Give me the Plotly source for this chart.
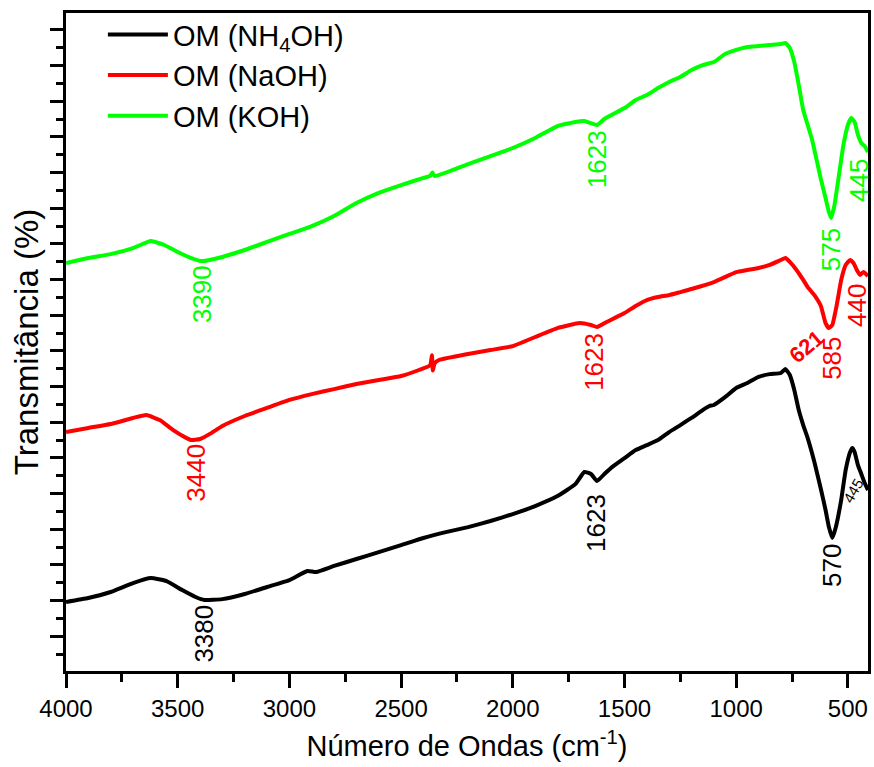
import plotly.graph_objects as go

# ---------------- data (wavenumber cm-1, transmittance in arbitrary units) ----------------
wn_nh4 = [4000, 3900, 3800, 3700, 3620, 3550, 3480, 3420, 3380, 3300, 3200, 3100, 3000, 2920, 2880,
          2800, 2700, 2600, 2500, 2400, 2300, 2200, 2100, 2000, 1900, 1800, 1720, 1680, 1650, 1623,
          1590, 1550, 1500, 1450, 1400, 1350, 1300, 1250, 1200, 1150, 1120, 1100, 1050, 1000, 950,
          900, 850, 800, 780, 760, 740, 720, 700, 680, 650, 620, 600, 585, 570, 555, 530, 510, 490,
          480, 470, 455, 440, 425, 410]
t_nh4 = [2.92, 3.14, 3.48, 3.98, 4.26, 4.09, 3.59, 3.20, 3.03, 3.08, 3.37, 3.76, 4.15, 4.66, 4.60,
         4.94, 5.33, 5.72, 6.11, 6.51, 6.84, 7.12, 7.46, 7.85, 8.30, 8.86, 9.53, 10.21, 10.10, 9.70,
         10.10, 10.54, 10.99, 11.44, 11.72, 12.00, 12.45, 12.84, 13.24, 13.68, 13.91, 13.97, 14.41,
         14.92, 15.20, 15.54, 15.70, 15.76, 15.98, 15.65, 14.81, 13.68, 12.84, 12.11, 10.77, 9.20,
         8.08, 7.12, 6.51, 7.07, 8.64, 10.32, 11.33, 11.55, 11.33, 10.60, 10.10, 9.59, 9.20]

wn_naoh = [4000, 3900, 3800, 3700, 3640, 3580, 3520, 3460, 3440, 3400, 3350, 3300, 3200, 3100, 3000,
           2900, 2800, 2700, 2600, 2500, 2420, 2370, 2362, 2358, 2350, 2330, 2200, 2100, 2000, 1900, 1800,
           1700, 1650, 1623, 1580, 1500, 1450, 1400, 1350, 1300, 1250, 1200, 1100, 1000, 950, 900,
           850, 800, 780, 760, 730, 700, 680, 650, 621, 600, 585, 570, 550, 530, 510, 490, 475, 460,
           445, 430, 410]
t_naoh = [12.45, 12.68, 12.90, 13.24, 13.40, 13.12, 12.56, 12.11, 12.00, 12.06, 12.39, 12.79, 13.35,
          13.80, 14.25, 14.58, 14.86, 15.14, 15.37, 15.59, 15.93, 16.20, 16.75, 15.90, 16.30, 16.49, 16.83,
          17.05, 17.27, 17.78, 18.28, 18.56, 18.45, 18.34, 18.62, 19.12, 19.52, 19.85, 20.02, 20.13,
          20.30, 20.47, 20.86, 21.42, 21.54, 21.65, 21.82, 22.10, 22.21, 21.99, 21.54, 20.98, 20.58,
          20.13, 19.52, 18.56, 18.28, 18.45, 19.57, 20.98, 21.82, 22.10, 21.93, 21.54, 21.26, 21.43,
          21.20]

wn_koh = [4000, 3900, 3800, 3700, 3620, 3560, 3500, 3440, 3390, 3300, 3200, 3100, 3000, 2900, 2800,
          2700, 2600, 2500, 2400, 2370, 2360, 2350, 2200, 2100, 2000, 1900, 1800, 1720, 1680, 1623,
          1590, 1500, 1450, 1400, 1350, 1300, 1250, 1200, 1150, 1100, 1050, 1000, 950, 900, 850, 800,
          780, 760, 740, 720, 700, 680, 660, 640, 620, 600, 585, 575, 560, 540, 520, 500, 485, 470,
          455, 440, 425, 410]
t_koh = [21.93, 22.21, 22.43, 22.77, 23.16, 22.94, 22.55, 22.21, 22.04, 22.27, 22.66, 23.11, 23.56,
         24.00, 24.57, 25.29, 25.86, 26.30, 26.70, 26.81, 27.00, 26.81, 27.48, 27.93, 28.38, 28.94,
         29.61, 29.84, 29.89, 29.67, 30.01, 30.62, 31.07, 31.35, 31.74, 32.08, 32.36, 32.75, 33.03,
         33.20, 33.65, 33.88, 34.04, 34.10, 34.16, 34.21, 34.27, 33.99, 33.20, 31.91, 30.51, 29.67,
         28.83, 27.71, 26.58, 25.57, 24.79, 24.45, 25.18, 26.86, 28.55, 29.67, 30.06, 29.84, 29.11,
         28.66, 28.49, 28.15]

series_names = ["OM (NH<sub>4</sub>OH)", "OM (NaOH)", "OM (KOH)"]
series_colors = ["#000000", "#ff0000", "#00ff00"]

# peak labels: text, wavenumber position, value position, series index, angle, size, bold
peak_text = ["3380", "1623", "570", "445",
             "3440", "1623", "621", "585", "440",
             "3390", "1623", "575", "445"]
peak_x = [3380, 1628, 572, 475,
          3420, 1637, 685, 572, 460,
          3390, 1623, 575, 451]
peak_y = [1.12, 7.35, 4.99, 9.15,
          10.15, 16.38, 17.25, 16.60, 19.57,
          20.20, 27.75, 22.66, 26.58]
peak_series = [0, 0, 0, 0, 1, 1, 1, 1, 1, 2, 2, 2, 2]
peak_angle = [-90, -90, -90, -60, -90, -90, -40, -90, -90, -90, -90, -90, -90]
peak_size = [26, 26, 26, 15, 26, 26, 22, 26, 26, 26, 26, 26, 26]
peak_bold = [False, False, False, False, False, False, True, False, False, False, False, False, False]

FONT = "Liberation Sans, Arial, sans-serif"

fig = go.Figure()
for wn, t, name, col in zip([wn_nh4, wn_naoh, wn_koh], [t_nh4, t_naoh, t_koh], series_names, series_colors):
    fig.add_trace(go.Scatter(x=wn, y=t, mode="lines", name=name,
                             line=dict(color=col, width=4, shape="spline", smoothing=0.4)))

for txt, px, py, si, ang, sz, bd in zip(peak_text, peak_x, peak_y, peak_series, peak_angle, peak_size, peak_bold):
    fig.add_annotation(x=px, y=py, text=f"<b>{txt}</b>" if bd else txt, showarrow=False,
                       textangle=ang, xanchor="center", yanchor="middle",
                       font=dict(family=FONT, size=sz, color=series_colors[si]))

fig.update_layout(
    width=874, height=767,
    margin=dict(l=66, r=3, t=13, b=96),
    paper_bgcolor="white", plot_bgcolor="white",
    font=dict(family=FONT, color="black"),
    showlegend=True,
    legend=dict(x=0.046, y=1.006, xanchor="left", yanchor="top",
                bgcolor="rgba(0,0,0,0)", font=dict(size=29, family=FONT),
                tracegroupgap=0, itemwidth=60),
    xaxis=dict(range=[4000, 410], tickmode="array",
               tickvals=[4000, 3500, 3000, 2500, 2000, 1500, 1000, 500],
               ticktext=["4000", "3500", "3000", "2500", "2000", "1500", "1000", "500"],
               ticks="outside", ticklen=14, tickwidth=2.5, tickcolor="black",
               minor=dict(dtick=250, tick0=0, ticks="outside", ticklen=8, tickwidth=2.5, tickcolor="black"),
               showline=True, linewidth=2.5, linecolor="black", mirror=True,
               showgrid=False, zeroline=False,
               tickfont=dict(size=24, family=FONT),
               title=dict(text="Número de Ondas (cm<sup>-1</sup>)", font=dict(size=29, family=FONT), standoff=16)),
    yaxis=dict(range=[-0.95, 35.95], tick0=1, dtick=2, showticklabels=False,
               ticks="outside", ticklen=13, tickwidth=2.5, tickcolor="black",
               minor=dict(dtick=1, tick0=0, ticks="outside", ticklen=7, tickwidth=2.5, tickcolor="black"),
               showline=True, linewidth=2.5, linecolor="black", mirror=True,
               showgrid=False, zeroline=False,
               title=dict(text="Transmitância (%)", font=dict(size=33, family=FONT), standoff=2)),
)

fig.write_html("out.html")
